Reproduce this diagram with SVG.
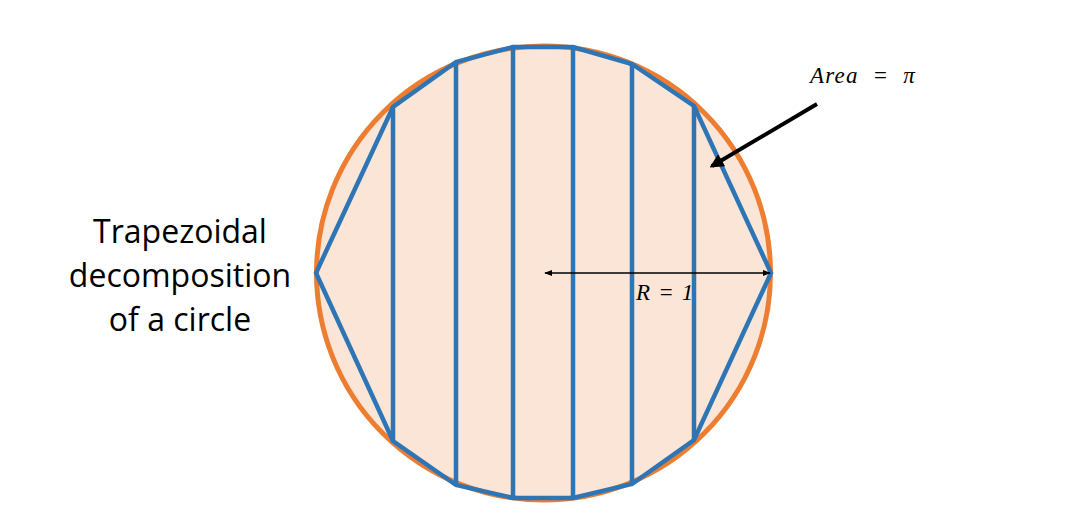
<svg xmlns="http://www.w3.org/2000/svg" width="1069" height="524" viewBox="0 0 1069 524">
<style>
.lbl{font-family:"Open Sans","Liberation Sans",sans-serif;font-size:32px;fill:#000;text-anchor:middle}
.math{font-family:"Liberation Serif","DejaVu Serif",serif;font-style:italic;font-size:23px;letter-spacing:1.2px;fill:#000}
.trap{fill:none;stroke:#2E75B6;stroke-width:4.5;stroke-linejoin:miter}
</style>
<defs>
<marker id="ah" viewBox="0 0 10 10" refX="9" refY="5" markerWidth="8" markerHeight="8" orient="auto-start-reverse" markerUnits="userSpaceOnUse">
<path d="M0,1 L10,5 L0,9 z" fill="#000"/>
</marker>
<marker id="ah2" viewBox="0 0 10 10" refX="8" refY="5" markerWidth="3.5" markerHeight="3.5" orient="auto" markerUnits="strokeWidth">
<path d="M0,0 L10,5 L0,10 z" fill="#000"/>
</marker>
</defs>
<rect width="1069" height="524" fill="#fff"/>
<g id="circle">
<circle cx="543.5" cy="273" r="227" fill="#FBE5D6" stroke="#ED7D31" stroke-width="5"/>
</g>
<g id="trapezoids">
<polygon class="trap" points="316,273 393,107 456,62 513,47 573,47 632,64 694,106 771,273 694,440 632,484 573,498 513,498 456,485 393,441"/>
<line class="trap" x1="393" y1="107" x2="393" y2="441"/>
<line class="trap" x1="456" y1="62" x2="456" y2="485"/>
<line class="trap" x1="513" y1="47" x2="513" y2="498"/>
<line class="trap" x1="573" y1="47" x2="573" y2="498"/>
<line class="trap" x1="632" y1="64" x2="632" y2="484"/>
<line class="trap" x1="694" y1="106" x2="694" y2="440"/>
</g>
<g id="connectors">
<line x1="545" y1="273" x2="770" y2="273" stroke="#000" stroke-width="1.5" marker-start="url(#ah)" marker-end="url(#ah)"/>
<line x1="817" y1="104" x2="712" y2="166" stroke="#000" stroke-width="4" marker-end="url(#ah2)"/>
</g>
<g id="title">
<text class="lbl" x="180" y="243">Trapezoidal</text>
<text class="lbl" x="180" y="287">decomposition</text>
<text class="lbl" x="180" y="331">of a circle</text>
</g>
<g id="area-label">
<text class="math" x="810" y="83" xml:space="preserve">Area  =  π</text>
</g>
<g id="radius-label">
<text class="math" x="636" y="300" xml:space="preserve">R = 1</text>
</g>
</svg>
